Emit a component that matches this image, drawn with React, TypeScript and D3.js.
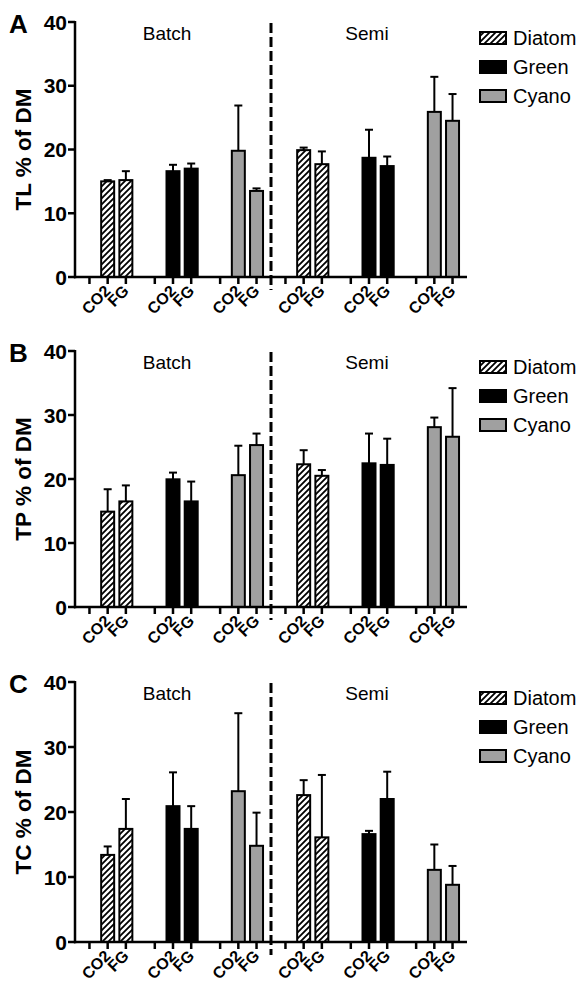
import React from "react";
import * as d3 from "d3";

// ---------- data ----------
const modes = ["Batch", "Semi"];
const species = ["Diatom", "Green", "Cyano"];
const treatments = ["", "CO2", "FG"];
const panelLetters = ["A", "B", "C"];
const yTitles = ["TL % of DM", "TP % of DM", "TC % of DM"];
const yTicks = [0, 10, 20, 30, 40];

// order: Batch Diatom CO2, FG, Batch Green CO2, FG, Batch Cyano CO2, FG, Semi Diatom ..., Semi Green ..., Semi Cyano ...
const tlMean = [15.0, 15.2, 16.6, 17.0, 19.8, 13.5, 19.9, 17.7, 18.7, 17.4, 25.9, 24.5];
const tlSD = [0.2, 1.4, 1.0, 0.8, 7.1, 0.4, 0.4, 2.0, 4.4, 1.5, 5.5, 4.2];
const tpMean = [14.9, 16.5, 19.95, 16.5, 20.6, 25.3, 22.3, 20.5, 22.45, 22.2, 28.1, 26.6];
const tpSD = [3.5, 2.5, 1.05, 3.1, 4.6, 1.8, 2.2, 0.9, 4.65, 4.1, 1.5, 7.6];
const tcMean = [13.4, 17.4, 20.9, 17.4, 23.2, 14.8, 22.6, 16.1, 16.6, 22.0, 11.1, 8.8];
const tcSD = [1.3, 4.6, 5.2, 3.5, 12.0, 5.1, 2.3, 9.6, 0.5, 4.2, 3.9, 2.9];

const means = [tlMean, tpMean, tcMean];
const sds = [tlSD, tpSD, tcSD];

// ---------- layout ----------
const W = 581;
const H = 984;
const panelTops = [22, 351, 682];
const panelBottoms = [277, 607, 942];
const xLeft = 75;
const xRight = 467;
const modeLabelShift = [-6, -2];
const FONT = "'Liberation Sans', Arial, Helvetica, sans-serif";
const fills: Record<string, string> = { Diatom: "url(#hatch)", Green: "#000", Cyano: "#a0a0a0" };

const groups = modes.flatMap((m) => species.map((s) => `${m}|${s}`));
const xGroup = d3.scaleBand<string>().domain(groups).range([xLeft, xRight]).padding(0);
const xSlot = d3.scalePoint<string>().domain(treatments).range([-18.2, 18.2]);

function Panel({ idx }: { idx: number }) {
  const top = panelTops[idx];
  const bottom = panelBottoms[idx];
  const y = d3.scaleLinear().domain([0, 40]).range([bottom, top]);
  const barW = 13;
  const bars: any[] = [];
  groups.forEach((g, gi) => {
    const sp = g.split("|")[1];
    ["CO2", "FG"].forEach((t, ti) => {
      const k = gi * 2 + ti;
      const m = means[idx][k];
      const sd = sds[idx][k];
      const cx = xGroup(g)! + xGroup.bandwidth() / 2 + xSlot(t)!;
      bars.push({ cx, m, sd, sp, key: `${g}-${t}` });
    });
  });
  const divX = xGroup(groups[3])!;
  return (
    <g>
      {/* panel letter */}
      <text x={9} y={top + 11} fontFamily={FONT} fontWeight="bold" fontSize={26}>
        {panelLetters[idx]}
      </text>
      {/* y title */}
      <text
        transform={`translate(${31},${(top + bottom) / 2}) rotate(-90)`}
        textAnchor="middle"
        fontFamily={FONT}
        fontWeight="bold"
        fontSize={22.5}
      >
        {yTitles[idx]}
      </text>
      {/* mode labels */}
      {modes.map((m, mi) => {
        const g0 = xGroup(groups[mi * 3])!;
        const g2 = xGroup(groups[mi * 3 + 2])! + xGroup.bandwidth();
        return (
          <text
            key={m}
            x={(g0 + g2) / 2 + modeLabelShift[mi]}
            y={top + 18}
            textAnchor="middle"
            fontFamily={FONT}
            fontSize={19}
          >
            {m}
          </text>
        );
      })}
      {/* bars */}
      {bars.map((b) => (
        <g key={b.key}>
          <line x1={b.cx} x2={b.cx} y1={y(b.m)} y2={y(b.m + b.sd)} stroke="#000" strokeWidth={2} />
          <line x1={b.cx - 4} x2={b.cx + 4} y1={y(b.m + b.sd)} y2={y(b.m + b.sd)} stroke="#000" strokeWidth={2} />
          <rect
            x={b.cx - barW / 2}
            y={y(b.m)}
            width={barW}
            height={y(0) - y(b.m)}
            fill={fills[b.sp]}
            stroke="#000"
            strokeWidth={2}
          />
        </g>
      ))}
      {/* y axis */}
      <line x1={xLeft} x2={xLeft} y1={top - 1} y2={bottom + 1.2} stroke="#000" strokeWidth={2.5} />
      {yTicks.map((t) => (
        <g key={t}>
          <line x1={xLeft - 7} x2={xLeft} y1={y(t)} y2={y(t)} stroke="#000" strokeWidth={2.5} />
          <text x={xLeft - 8} y={y(t) + 7.5} textAnchor="end" fontFamily={FONT} fontWeight="bold" fontSize={21}>
            {t}
          </text>
        </g>
      ))}
      {/* x axis */}
      <line x1={xLeft - 1} x2={xRight} y1={bottom} y2={bottom} stroke="#000" strokeWidth={2.5} />
      {groups.map((g) =>
        treatments.map((t) => {
          const cx = xGroup(g)! + xGroup.bandwidth() / 2 + xSlot(t)!;
          return (
            <g key={`${g}-${t}-tick`}>
              <line x1={cx} x2={cx} y1={bottom} y2={bottom + 7} stroke="#000" strokeWidth={2.5} />
              {t !== "" && (
                <text
                  transform={`translate(${cx + 4},${bottom + 15}) rotate(-45)`}
                  textAnchor="end"
                  fontFamily={FONT}
                  fontWeight="bold"
                  fontSize={16}
                >
                  {t}
                </text>
              )}
            </g>
          );
        })
      )}
      {/* divider */}
      <line
        x1={divX}
        x2={divX}
        y1={top + 1}
        y2={bottom + 13}
        stroke="#000"
        strokeWidth={3}
        strokeDasharray="10,4"
      />
      {/* legend */}
      {species.map((s, si) => (
        <g key={s}>
          <rect x={480} y={top + 10 + si * 29} width={26} height={12} fill={fills[s]} stroke="#000" strokeWidth={2} />
          <text x={513} y={top + 23 + si * 29} fontFamily={FONT} fontSize={20}>
            {s}
          </text>
        </g>
      ))}
    </g>
  );
}

export default function App() {
  return (
    <svg
      width={W}
      height={H}
      viewBox={`0 0 ${W} ${H}`}
      style={{ position: "absolute", left: 0, top: 0, background: "#fff" }}
    >
      <defs>
        <pattern id="hatch" patternUnits="userSpaceOnUse" width={6} height={6}>
          <rect width={6} height={6} fill="#fff" />
          <path d="M-1,7 L7,-1 M-1,1 L1,-1 M5,7 L7,5" stroke="#000" strokeWidth={1.8} />
        </pattern>
      </defs>
      <rect width={W} height={H} fill="#fff" />
      {panelTops.map((_, i) => (
        <Panel key={i} idx={i} />
      ))}
    </svg>
  );
}
